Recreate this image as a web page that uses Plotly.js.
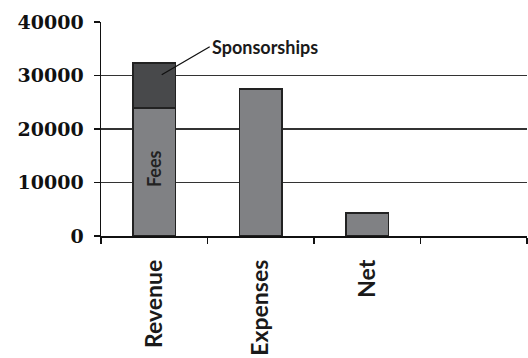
<!DOCTYPE html>
<html>
<head>
<meta charset="utf-8">
<script src="https://cdn.plot.ly/plotly-3.0.1.min.js"></script>
<style>html,body{margin:0;padding:0;background:#fff;}#chart{width:528px;height:358px;}</style>
</head>
<body>
<div id="chart"></div>
<script>
const categories = ['Revenue', 'Expenses', 'Net', ' '];
const baseValues = [23900, 27500, 4300, null];
const sponsorships = [8400, null, null, null];
const yTicks = [0, 10000, 20000, 30000, 40000];
const gridTicks = [10000, 20000, 30000];

const barLine = {color: '#222', width: 1.5};
const data = [
  {type: 'scatter', mode: 'markers', x: [categories[0]], y: [null], yaxis: 'y2',
   hoverinfo: 'skip', showlegend: false},
  {type: 'bar', x: categories, y: baseValues, name: 'Fees',
   marker: {color: '#808184', line: barLine}, width: 0.4, hoverinfo: 'skip'},
  {type: 'bar', x: categories, y: sponsorships, name: 'Sponsorships',
   marker: {color: '#48494b', line: barLine}, width: 0.4, hoverinfo: 'skip'}
];

const layout = {
  width: 528, height: 358,
  margin: {l: 101, r: 1, t: 22, b: 122, pad: 0},
  paper_bgcolor: '#fff', plot_bgcolor: '#fff',
  barmode: 'stack', showlegend: false,
  xaxis: {
    type: 'category', categoryorder: 'array', categoryarray: categories,
    range: [-0.5, 3.5], tickson: 'boundaries', ticks: 'outside', ticklen: 6,
    tickwidth: 1.3, tickcolor: '#111', showline: true, linecolor: '#111', linewidth: 1.5,
    showgrid: false, zeroline: false, tickangle: -90, ticklabelstandoff: 13,
    tickfont: {family: 'Lato', size: 23, color: '#1a1a1a', weight: 'bold'}
  },
  yaxis: {
    range: [0, 40000], tickvals: yTicks, ticktext: yTicks.map(String),
    ticks: 'outside', ticklen: 6, tickwidth: 1.3, tickcolor: '#111',
    showline: true, linecolor: '#111', linewidth: 1.5, showgrid: false, zeroline: false,
    ticklabelstandoff: 6,
    tickfont: {family: 'DejaVu Serif', size: 19, color: '#111', weight: 'bold'}
  },
  yaxis2: {
    overlaying: 'y', range: [0, 40000], tickvals: gridTicks, showticklabels: false,
    ticks: '', showgrid: true, gridcolor: '#333', gridwidth: 1.5, showline: false, zeroline: false
  },
  annotations: [{
    x: 0.07, y: 30150, xref: 'x', yref: 'y', text: 'Sponsorships',
    showarrow: true, arrowhead: 0, arrowwidth: 1.3, arrowcolor: '#111',
    ax: 48, ay: -28, xanchor: 'left', yanchor: 'middle',
    font: {family: 'Lato', size: 18, color: '#1a1a1a', weight: 'bold'}
  }, {
    x: categories[0], y: baseValues[0] / 2 + 600, xref: 'x', yref: 'y', text: 'Fees',
    showarrow: false, textangle: -90, xanchor: 'center', yanchor: 'middle',
    font: {family: 'Lato', size: 18, color: '#222', weight: 'bold'}
  }]
};

Plotly.newPlot('chart', data, layout, {displayModeBar: false, staticPlot: true});
</script>
</body>
</html>
